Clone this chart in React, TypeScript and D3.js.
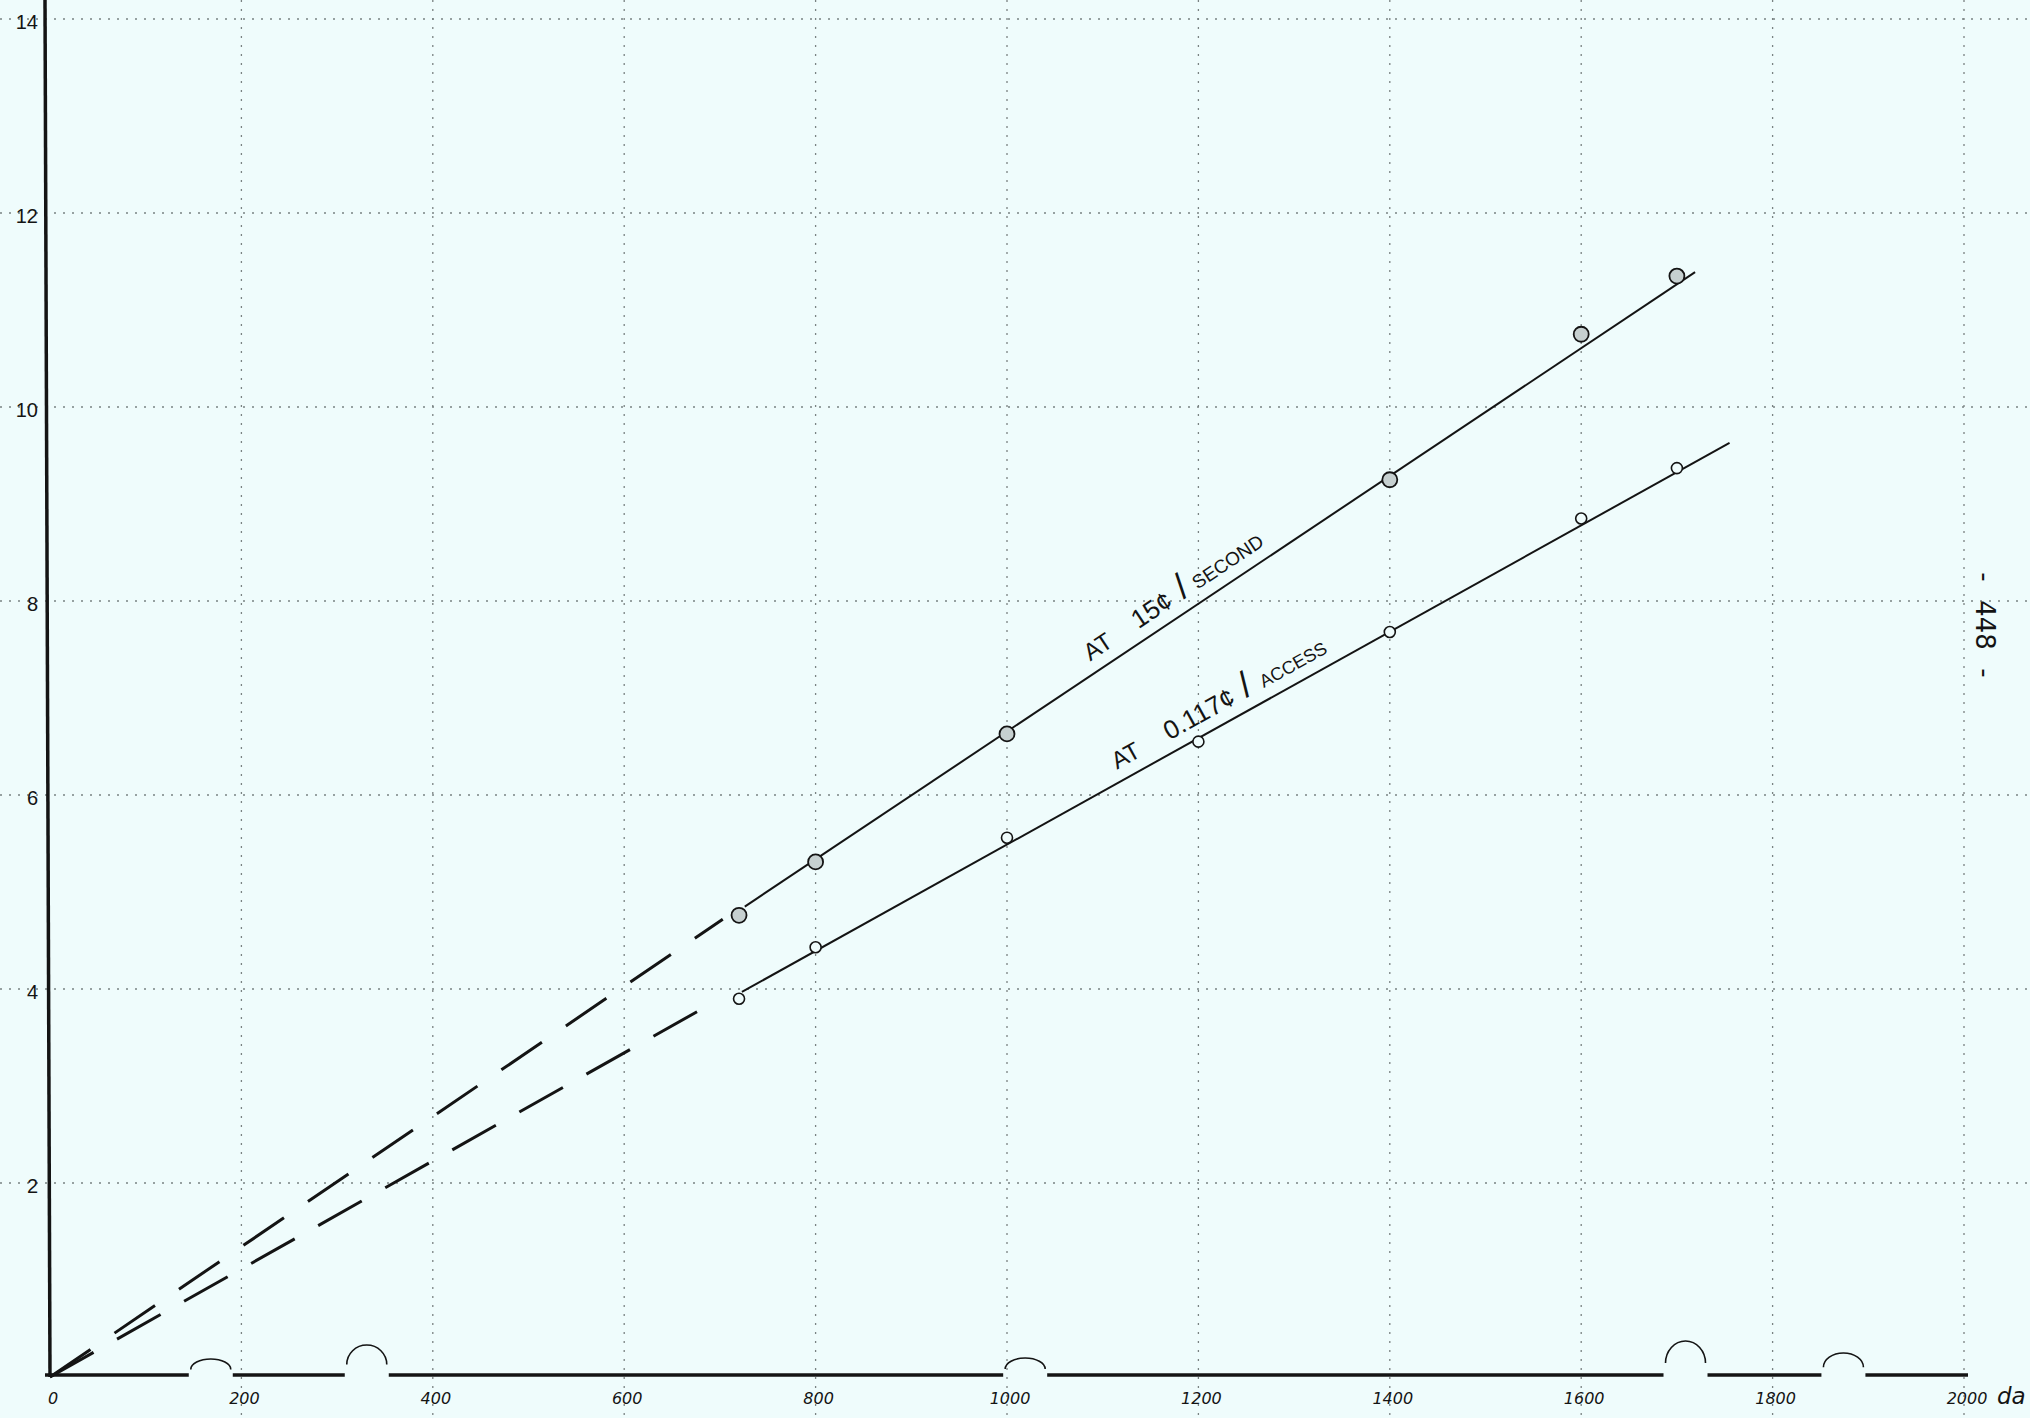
import React, { useRef, useEffect } from 'react';
import * as d3 from 'd3';

// values
const xTicks = [0, 200, 400, 600, 800, 1000, 1200, 1400, 1600, 1800, 2000];
const yTicks = [2, 4, 6, 8, 10, 12, 14];

// measured points
const secondPoints: [number, number][] = [
  [720, 4.76], [800, 5.31], [1000, 6.63], [1400, 9.25], [1600, 10.75], [1700, 11.35],
];
const accessPoints: [number, number][] = [
  [720, 3.9], [800, 4.43], [1000, 5.56], [1200, 6.55], [1400, 7.68], [1600, 8.85], [1700, 9.37],
];

// drawn fit lines (solid) and their extension to the origin (dashed)
const secondFit: [number, number][] = [[726, 4.85], [1719, 11.39]];
const accessFit: [number, number][] = [[723, 3.97], [1755, 9.63]];
const secondExtrap: [number, number][] = [[0, 0], [703, 4.72]];
const accessExtrap: [number, number][] = [[0, 0], [693, 3.86]];

const secondLabel = ['AT', '15¢', '/', 'SECOND'];
const accessLabel = ['AT', '0.117¢', '/', 'ACCESS'];

// where the x axis line is broken by little humps
const axisBreaks = [168, 331, 1019, 1709, 1874];
const pageNumber = '448';
const xUnit = 'da';

function App() {
  const svgRef = useRef<SVGSVGElement>(null);

  useEffect(() => {
    const w = 2030;
    const h = 1418;
    const ink = '#141414';

    const svg = d3.select(svgRef.current)
      .attr('width', w)
      .attr('height', h)
      .style('background', '#effcfc');
    svg.selectAll('*').remove();

    const x = d3.scaleLinear().domain([0, 2000]).range([50, 1964]);
    const y = d3.scaleLinear().domain([0, 14]).range([1377, 19]);

    // dotted grid
    const grid = svg.append('g')
      .attr('stroke', '#7a8282')
      .attr('stroke-width', 1.3)
      .attr('stroke-dasharray', '2 7');
    grid.selectAll('.vg')
      .data(xTicks.filter(d => d > 0))
      .join('line')
        .attr('x1', d => x(d)).attr('x2', d => x(d))
        .attr('y1', 0).attr('y2', h);
    grid.selectAll('.hg')
      .data(yTicks)
      .join('line')
        .attr('class', 'hg')
        .attr('x1', 0).attr('x2', w)
        .attr('y1', d => y(d)).attr('y2', d => y(d));

    // y axis, slightly leaning like the drawn one
    svg.append('line')
      .attr('x1', x(0) - 5).attr('y1', 0)
      .attr('x2', x(0)).attr('y2', y(0))
      .attr('stroke', ink)
      .attr('stroke-width', 3.5);

    // x axis with breaks
    const half = 22;
    const breakRise = [16, 30, 17, 34, 22];
    const xs = [x(0) - 5, ...axisBreaks.flatMap(b => [x(b) - half, x(b) + half]), x(2000) + 4];
    const segs = d3.range(0, xs.length, 2).map(i => [xs[i], xs[i + 1]]);
    svg.append('g').selectAll('line')
      .data(segs)
      .join('line')
        .attr('x1', d => d[0]).attr('x2', d => d[1])
        .attr('y1', y(0) - 2).attr('y2', y(0) - 2)
        .attr('stroke', ink)
        .attr('stroke-width', 3.5);
    svg.append('g').selectAll('path')
      .data(axisBreaks)
      .join('path')
        .attr('d', (b, i) => {
          const cx = x(b);
          const base = y(0) - 2 - breakRise[i] * 0.35;
          return `M${cx - half + 2},${base} A${half - 2},${breakRise[i] * 0.65} 0 0 1 ${cx + half - 2},${base}`;
        })
        .attr('fill', 'none')
        .attr('stroke', ink)
        .attr('stroke-width', 1.6);

    // tick labels
    svg.append('g').selectAll('text')
      .data(yTicks)
      .join('text')
        .attr('x', 38)
        .attr('y', d => y(d) + 5)
        .attr('text-anchor', 'end')
        .attr('dominant-baseline', 'middle')
        .attr('font-family', 'Liberation Sans, sans-serif')
        .attr('font-size', 20)
        .attr('fill', ink)
        .text(d => d);
    svg.append('g').selectAll('text')
      .data(xTicks)
      .join('text')
        .attr('x', d => x(d) + 3)
        .attr('y', y(0) + 22)
        .attr('text-anchor', 'middle')
        .attr('dominant-baseline', 'middle')
        .attr('font-family', 'DejaVu Sans, sans-serif')
        .attr('font-style', 'italic')
        .attr('font-size', 16)
        .attr('fill', ink)
        .text(d => d);
    svg.append('text')
      .attr('x', 1997)
      .attr('y', y(0) + 20)
      .attr('dominant-baseline', 'middle')
      .attr('font-family', 'DejaVu Sans, sans-serif')
      .attr('font-style', 'italic')
      .attr('font-size', 23)
      .attr('fill', ink)
      .text(xUnit);

    const line = d3.line<[number, number]>()
      .x(d => x(d[0]))
      .y(d => y(d[1]));

    // dashed extrapolations
    const dashes = ['49 29', '50 27'];
    [secondExtrap, accessExtrap].forEach((ext, i) => {
      svg.append('path')
        .attr('d', line(ext))
        .attr('fill', 'none')
        .attr('stroke', ink)
        .attr('stroke-width', 3)
        .attr('stroke-dasharray', dashes[i]);
    });

    // solid fits
    [secondFit, accessFit].forEach(fit => {
      svg.append('path')
        .attr('d', line(fit))
        .attr('fill', 'none')
        .attr('stroke', ink)
        .attr('stroke-width', 2);
    });

    // points
    svg.append('g').selectAll('circle')
      .data(secondPoints)
      .join('circle')
        .attr('cx', d => x(d[0]))
        .attr('cy', d => y(d[1]))
        .attr('r', 7.5)
        .attr('fill', '#c6d0d0')
        .attr('stroke', ink)
        .attr('stroke-width', 1.8);
    svg.append('g').selectAll('circle')
      .data(accessPoints)
      .join('circle')
        .attr('cx', d => x(d[0]))
        .attr('cy', d => y(d[1]))
        .attr('r', 5.5)
        .attr('fill', '#effcfc')
        .attr('stroke', ink)
        .attr('stroke-width', 1.6);

    // labels written along the lines
    const annotate = (fit: [number, number][], atX: number, parts: string[], offs: number[], sizes: number[]) => {
      const [p1, p2] = fit;
      const t = (atX - p1[0]) / (p2[0] - p1[0]);
      const ly = p1[1] + t * (p2[1] - p1[1]);
      const ang = Math.atan2(y(p2[1]) - y(p1[1]), x(p2[0]) - x(p1[0])) * 180 / Math.PI;
      const g = svg.append('g')
        .attr('transform', `translate(${x(atX)},${y(ly)}) rotate(${ang}) translate(0,-12)`);
      g.selectAll('text')
        .data(parts)
        .join('text')
          .attr('x', (d, i) => offs[i])
          .attr('y', 0)
          .attr('font-family', 'Liberation Sans, sans-serif')
          .attr('font-size', (d, i) => sizes[i])
          .attr('fill', ink)
          .text(d => d);
    };
    annotate(secondFit, 1094, secondLabel, [0, 58, 112, 129], [24, 26, 36, 19]);
    annotate(accessFit, 1121, accessLabel, [0, 60, 148, 168], [24, 26, 36, 18]);

    // page number on the right edge
    const pg = svg.append('g')
      .attr('transform', 'translate(1976,625) rotate(90)')
      .attr('font-family', 'DejaVu Sans, sans-serif')
      .attr('font-size', 26)
      .attr('fill', ink)
      .attr('text-anchor', 'middle');
    pg.append('text').attr('x', -48).attr('y', 0).text('-');
    pg.append('text').attr('x', 0).attr('y', 0).text(pageNumber);
    pg.append('text').attr('x', 48).attr('y', 0).text('-');
  }, []);

  return (
    <div>
      <svg ref={svgRef} style={{ position: 'absolute', left: 0, top: 0, display: 'block' }}></svg>
    </div>
  );
}

export default App;
